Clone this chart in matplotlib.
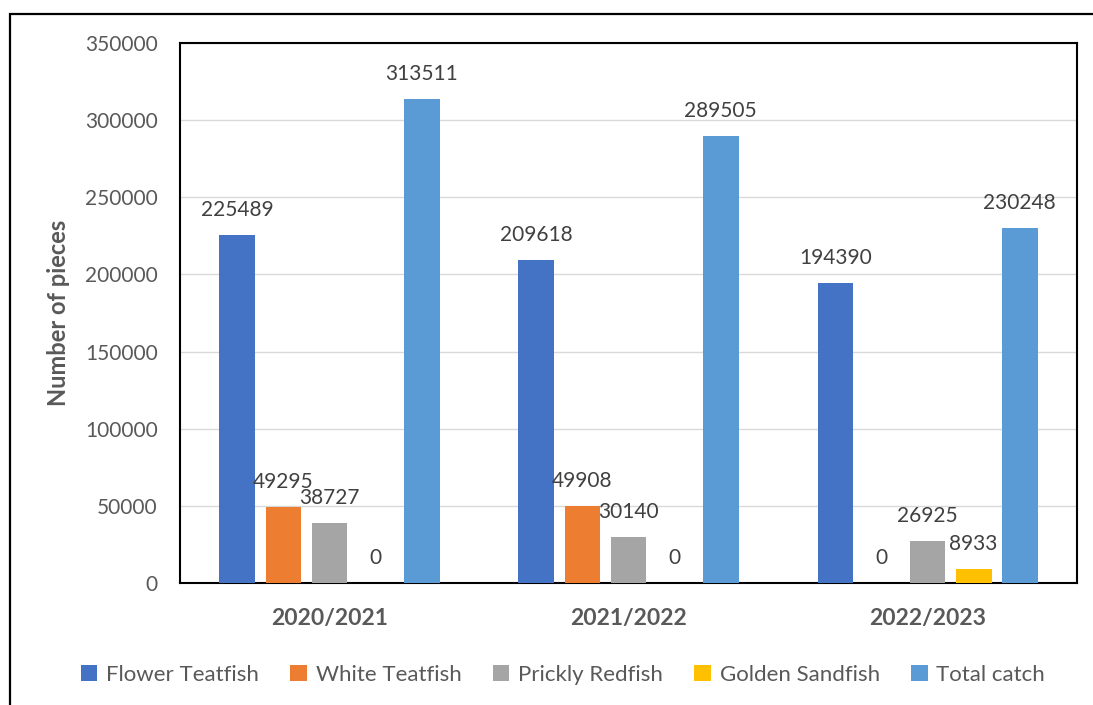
import matplotlib.pyplot as plt
import numpy as np

seasons = ['2020/2021', '2021/2022', '2022/2023']
species = ['Flower Teatfish', 'White Teatfish', 'Prickly Redfish', 'Golden Sandfish', 'Total catch']
flower = [225489, 209618, 194390]
white = [49295, 49908, 0]
prickly = [38727, 30140, 26925]
golden = [0, 0, 8933]
total = [313511, 289505, 230248]
colors = ['#4472C4', '#ED7D31', '#A5A5A5', '#FFC000', '#5B9BD5']

plt.rcParams['font.family'] = ['Lato', 'DejaVu Sans']
txt = '#595959'

fig = plt.figure(figsize=(10.93, 7.05), dpi=100)
ax = fig.add_axes([0.1647, 0.173, 0.8207, 0.766])

x = np.arange(len(seasons))
step = 0.154
width = 0.12
for i, (vals, name) in enumerate(zip([flower, white, prickly, golden, total], species)):
    pos = x + (i - 2) * step
    bars = ax.bar(pos, vals, width, color=colors[i], label=name, zorder=3)
    for b, v in zip(bars, vals):
        ax.annotate(str(v), (b.get_x() + b.get_width() / 2, v), xytext=(0, 18),
                    textcoords='offset points', ha='center', va='center',
                    fontsize=15, color='#404040')

ax.set_xlim(-0.5, 2.5)
ax.set_ylim(0, 350000)
ax.set_yticks(range(0, 350001, 50000))
ax.yaxis.grid(True, color='#d9d9d9', linewidth=1, zorder=0)
ax.set_xticks(x)
ax.set_xticklabels(seasons, fontsize=16.5, fontweight='bold', color=txt)
ax.tick_params(axis='both', length=0)
ax.tick_params(axis='y', labelsize=15, labelcolor=txt, pad=16)
ax.tick_params(axis='x', pad=18)
for s in ax.spines.values():
    s.set_color('black')
    s.set_linewidth(1.5)
ax.set_ylabel('Number of pieces', fontsize=17, fontweight='bold', color=txt, labelpad=11)

leg = fig.legend(loc='center', bbox_to_anchor=(0.515, 0.043), ncol=5, frameon=False,
                 fontsize=16, handlelength=0.75, handleheight=0.75, columnspacing=1.4,
                 handletextpad=0.4)
for t in leg.get_texts():
    t.set_color(txt)

# outer chart border
fig.add_artist(plt.Rectangle((10 / 1093, -0.1), 1.2, 1 - 14 / 705 + 0.1,
                             transform=fig.transFigure, fill=False,
                             edgecolor='black', linewidth=1.6))

fig.savefig('out.png', dpi=100)
